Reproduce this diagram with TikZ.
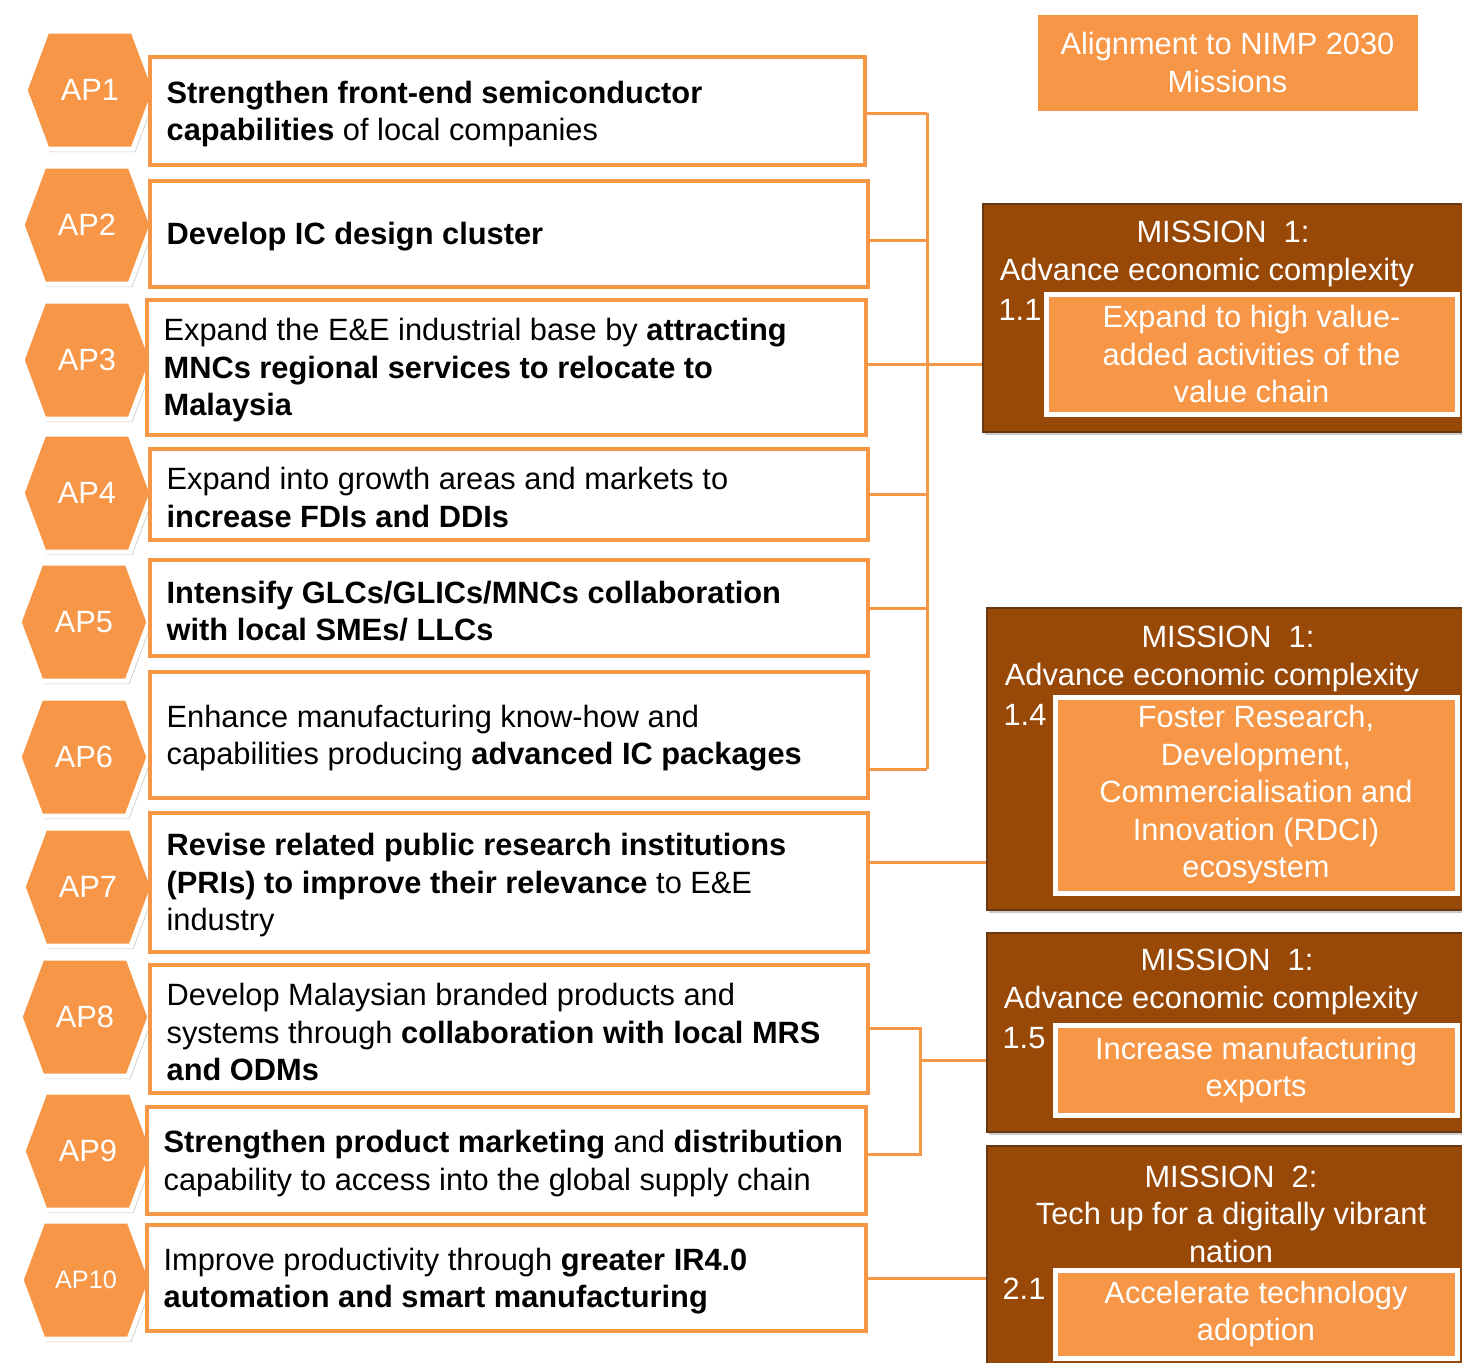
\documentclass[tikz,border=0pt]{standalone}
\usepackage{fontspec}
\setmainfont{Liberation Sans}
\usetikzlibrary{shadows,fit,calc}
\definecolor{org}{HTML}{F79646}
\definecolor{brn}{HTML}{984807}
\definecolor{brnd}{HTML}{6A3810}
\newcommand\mainfs{\fontsize{15.4}{18.75}\selectfont}
\begin{document}
\begin{tikzpicture}[x=0.5pt,y=-0.5pt,
  shd/.style={drop shadow={shadow xshift=1.2pt,shadow yshift=-1.5pt,opacity=0.35,fill=black!60}},
  hexs/.style={fill=org,draw=white,line width=2.5pt,shd},
  hextext/.style={text=white,font=\mainfs,inner sep=0pt},
  abox/.style={draw=org,line width=1.75pt,fill=white,inner sep=0pt},
  atext/.style={anchor=west,align=left,inner sep=0pt,font=\mainfs,text=black,yshift=-1.5pt},
  conn/.style={draw=org,line width=1.5pt},
  mbox/.style={fill=brn,draw=brnd,line width=1pt,inner sep=0pt,shd},
  ibox/.style={fill=org,draw=white,line width=2.5pt,inner sep=0pt,align=center,text=white,font=\mainfs,shd},
  mtext/.style={text=white,font=\mainfs,align=center,inner sep=0pt,yshift=-1.5pt},
]
\useasboundingbox (0,0) rectangle (1462,1362);
\clip (0,0) rectangle (1462,1362);

% ---------- hexagons ----------
\foreach \n/\x/\y in {1/90/90,2/87/225,3/87/360,4/87/493,5/84/622,6/84/757,7/88/887,8/85/1017,9/88/1151,10/86/1280}{
  \coordinate (h\n) at (\x,\y);
  \draw[hexs] (h\n) +(-65,0) -- +(-43,-59) -- +(43,-59) -- +(65,0) -- +(43,59) -- +(-43,59) -- cycle;
}
\foreach \n in {1,...,9}{\node[hextext] (ap\n) at (h\n) {AP\n};}
\node[hextext,font=\fontsize{12.6}{15}\selectfont] (ap10) at (h10) {AP10};

% ---------- action boxes ----------
\node[abox,fit={(150,57) (865,165)}] (b1) {};
\node[abox,fit={(150,181) (868,287)}] (b2) {};
\node[abox,fit={(147,300) (866,435)}] (b3) {};
\node[abox,fit={(150,449) (868,540)}] (b4) {};
\node[abox,fit={(150,560) (868,656)}] (b5) {};
\node[abox,fit={(150,672) (868,798)}] (b6) {};
\node[abox,fit={(150,813) (868,952)}] (b7) {};
\node[abox,fit={(150,965) (868,1093)}] (b8) {};
\node[abox,fit={(147,1107) (866,1214)}] (b9) {};
\node[abox,fit={(147,1225) (866,1331)}] (b10) {};

\node[atext] (t1) at ([xshift=9pt]b1.west) {\textbf{Strengthen front-end semiconductor}\\\textbf{capabilities} of local companies};
\node[atext] (t2) at ([xshift=9pt]b2.west) {\textbf{Develop IC design cluster}};
\node[atext] (t3) at ([xshift=9pt]b3.west) {Expand the E\&E industrial base by \textbf{attracting}\\\textbf{MNCs regional services to relocate to}\\\textbf{Malaysia}};
\node[atext] (t4) at ([xshift=9pt]b4.west) {Expand into growth areas and markets to\\\textbf{increase FDIs and DDIs}};
\node[atext] (t5) at ([xshift=9pt]b5.west) {\textbf{Intensify GLCs/GLICs/MNCs collaboration}\\\textbf{with local SMEs/ LLCs}};
\node[atext] (t6) at ([xshift=9pt]b6.west) {Enhance manufacturing know-how and\\capabilities producing \textbf{advanced IC packages}};
\node[atext] (t7) at ([xshift=9pt]b7.west) {\textbf{Revise related public research institutions}\\\textbf{(PRIs) to improve their relevance} to E\&E\\industry};
\node[atext] (t8) at ([xshift=9pt]b8.west) {Develop Malaysian branded products and\\systems through \textbf{collaboration with local MRS}\\\textbf{and ODMs}};
\node[atext] (t9) at ([xshift=9pt]b9.west) {\textbf{Strengthen product marketing} and \textbf{distribution}\\capability to access into the global supply chain};
\node[atext] (t10) at ([xshift=9pt]b10.west) {Improve productivity through \textbf{greater IR4.0}\\\textbf{automation and smart manufacturing}};

% ---------- header ----------
\node[ibox,minimum width=192.5pt,minimum height=50.5pt] (hdr) at (1227.5,62.5) {Alignment to NIMP 2030\\Missions};

% ---------- mission boxes ----------
\node[mbox,fit={(983,204) (1475,432)}] (m1) {};
\node[mbox,fit={(987,608) (1475,910)}] (m4) {};
\node[mbox,fit={(987,933) (1475,1132)}] (m5) {};
\node[mbox,fit={(987,1146) (1475,1380)}] (m2) {};

\node[mtext] (m1h) at (1207,251) {\hspace*{16pt}MISSION\ \ 1:\\Advance\ economic\ complexity};
\node[mtext] (m4h) at (1212,656) {\hspace*{16pt}MISSION\ \ 1:\\Advance\ economic\ complexity};
\node[mtext] (m5h) at (1211,979) {\hspace*{16pt}MISSION\ \ 1:\\Advance\ economic\ complexity};
\node[mtext] (m2h) at (1231,1211) {MISSION\ \ 2:\\Tech up for a digitally vibrant\\nation};

\node[mtext] (n11) at (1020,307) {1.1};
\node[mtext] (n14) at (1025,712) {1.4};
\node[mtext] (n15) at (1024,1035) {1.5};
\node[mtext] (n21) at (1024,1286) {2.1};

\node[ibox,minimum width=205.5pt,minimum height=60pt] (i1) at (1251.5,354) {Expand\ to high value-\\added activities of the\\value chain};
\node[ibox,minimum width=201pt,minimum height=98pt] (i4) at (1256,795) {Foster Research,\\Development,\\Commercialisation and\\Innovation\ (RDCI)\\ecosystem};
\node[ibox,minimum width=201pt,minimum height=45pt] (i5) at (1256,1070) {Increase manufacturing\\exports};
\node[ibox,minimum width=201pt,minimum height=44pt] (i2) at (1256,1314) {Accelerate technology\\adoption};

% ---------- connectors ----------
\coordinate (j1) at (927,113);
\coordinate (j2) at (927,240);
\coordinate (j3) at (927,364);
\coordinate (j4) at (927,494);
\coordinate (j5) at (927,608);
\coordinate (j6) at (927,769);
\draw[conn] (j1) -- (j6);
\foreach \n in {1,...,6}{\draw[conn] (b\n.east |- j\n) -- (j\n);}
\draw[conn] (j3) -- (m1.west |- j3);

\coordinate (k7) at (927,862);
\draw[conn] (b7.east |- k7) -- (m4.west |- k7);

\coordinate (j8) at (920,1028);
\coordinate (j9) at (920,1154);
\coordinate (jm) at (920,1060);
\draw[conn] (b8.east |- j8) -- (j8) -- (j9) -- (b9.east |- j9);
\draw[conn] (jm) -- (m5.west |- jm);

\coordinate (k10) at (927,1278);
\draw[conn] (b10.east |- k10) -- (m2.west |- k10);
\end{tikzpicture}
\end{document}
